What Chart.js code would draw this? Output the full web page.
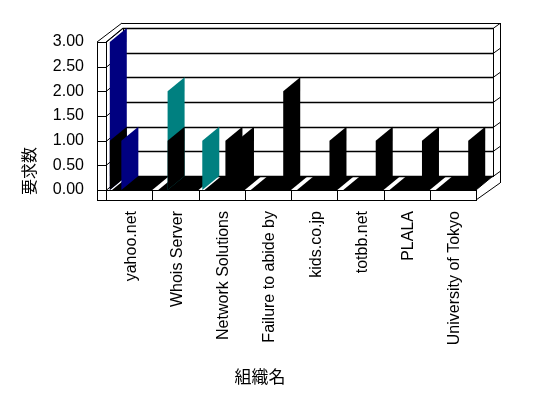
<!DOCTYPE html>
<html>
<head>
<meta charset="utf-8">
<script src="https://cdn.jsdelivr.net/npm/chart.js@4.4.0/dist/chart.umd.min.js"></script>
<style>
  html, body { margin: 0; padding: 0; background: #fff; }
</style>
</head>
<body>
<canvas id="myChart" width="548" height="398"></canvas>
<script>
// organisations on the x axis
const labels = [
  'yahoo.net',
  'Whois Server',
  'Network Solutions',
  'Failure to abide by',
  'kids.co.jp',
  'totbb.net',
  'PLALA',
  'University of Tokyo'
];

// request counts, one array per bar slot inside a category (null = no bar)
const backA  = [3, null, 1, null, null, null, null, null];
const frontA = [1, null, null, null, null, null, null, null];
const backB  = [1, 2, null, null, null, null, null, null];
const frontB = [null, 1, null, null, null, null, null, null];
const slotC  = [null, null, 1, null, null, null, null, null];
const slotD  = [null, null, 1, 2, 1, 1, 1, 1];

const yTicks = [0, 0.5, 1, 1.5, 2, 2.5, 3];
const xTitle = '組織名';
const yTitle = '要求数';

const NAVY = '#000080';
const TEAL = '#008080';
const BLACK = '#000000';
const backAColors = [NAVY, null, TEAL, null, null, null, null, null];
const backBColors = [NAVY, TEAL, null, null, null, null, null, null];

// depth of the 3d box
const DX = 17, DY = -14;

function line(ctx, x1, y1, x2, y2) {
  ctx.beginPath();
  ctx.moveTo(x1, y1);
  ctx.lineTo(x2, y2);
  ctx.stroke();
}

function poly(ctx, pts, fill) {
  ctx.beginPath();
  ctx.moveTo(pts[0][0], pts[0][1]);
  for (let i = 1; i < pts.length; i++) ctx.lineTo(pts[i][0], pts[i][1]);
  ctx.closePath();
  ctx.fillStyle = fill;
  ctx.fill();
}

const frame = {
  id: 'frame',
  beforeDatasetsDraw(chart) {
    const ctx = chart.ctx;
    const a = chart.chartArea;
    const x = chart.scales.x, y = chart.scales.y;
    const L = a.left, R = a.right, T = a.top, B = a.bottom;
    ctx.save();
    ctx.strokeStyle = '#000';
    ctx.lineWidth = 1;

    // back wall
    ctx.strokeRect(L + DX + 0.5, T + DY + 0.5, R - L, B - T);
    line(ctx, L + DX - 1, T + DY - 4.5, R + DX + 7, T + DY - 4.5);
    line(ctx, R + DX + 7.5, T + DY - 5, R + DX + 7.5, B + DY + 7);
    ctx.lineWidth = 1.5;
    yTicks.forEach(v => {
      const fy = Math.round(y.getPixelForValue(v)) + 0.5;
      const by = fy + DY;
      line(ctx, L + DX, by, R + DX, by);
      ctx.lineWidth = 1;
      line(ctx, R + DX, by, R + DX + 7, by - 5);
      line(ctx, L, fy, L + DX, by);
      line(ctx, L - 9, fy, L, fy);
      ctx.lineWidth = 1.5;
    });
    ctx.lineWidth = 1;

    // left wall
    ctx.strokeRect(L - 8.5, T + 0.5, 9, B - T + 10);
    line(ctx, L - 9, T, L + DX - 1, T + DY - 5);
    line(ctx, L, T, L + DX, T + DY);

    // floor slab
    ctx.strokeRect(L - 8.5, B + 0.5, R - L + 9, 10);
    const band = x.width / labels.length;
    labels.forEach((lab, i) => {
      const x0 = Math.round(x.getPixelForValue(i) - band / 2) + 0.5;
      if (i > 0) line(ctx, x0, B, x0, B + 10);
    });
    line(ctx, R, B, R + DX, B + DY);
    line(ctx, R, B + 10, R + DX + 7, B + DY + 7);

    // black floor of each category
    labels.forEach((lab, i) => {
      const x0 = x.getPixelForValue(i) - band / 2;
      poly(ctx, [[x0 + 6, B], [x0 + band, B], [x0 + band + DX, B + DY], [x0 + 6 + DX, B + DY]], BLACK);
    });
    ctx.restore();
  },
  afterDatasetsDraw(chart) {
    const ctx = chart.ctx;
    ctx.save();
    labels.forEach((lab, i) => {
      chart.data.datasets.forEach((ds, d) => {
        const v = ds.data[i];
        if (v === null || v === undefined) return;
        const el = chart.getDatasetMeta(d).data[i];
        const xf = el.x - 2;
        const col = ds.planeColors[i];
        poly(ctx, [[xf, el.base], [xf, el.y], [xf + DX, el.y + DY], [xf + DX, el.base + DY]], col);
      });
    });
    ctx.restore();
  },
  afterDraw(chart) {
    const ctx = chart.ctx;
    ctx.save();
    ctx.fillStyle = '#000';
    ctx.textAlign = 'center';
    ctx.textBaseline = 'middle';
    ctx.font = '17px "Noto Sans CJK JP"';
    ctx.fillText(xTitle, 260, 377);
    ctx.translate(29, 171);
    ctx.rotate(-Math.PI / 2);
    ctx.font = '16px "Noto Sans CJK JP"';
    ctx.fillText(yTitle, 0, 0);
    ctx.restore();
  }
};

const fill = arr => arr.map(() => 'rgba(0,0,0,0)');
const black = arr => arr.map(() => BLACK);

const data = {
  labels: labels,
  datasets: [
    { label: 'A', data: backA, stack: 'a', planeColors: backAColors },
    { label: 'A2', data: frontA, stack: 'a', planeColors: black(frontA) },
    { label: 'B', data: backB, stack: 'b', planeColors: backBColors },
    { label: 'B2', data: frontB, stack: 'b', planeColors: black(frontB) },
    { label: 'C', data: slotC, stack: 'c', planeColors: black(slotC) },
    { label: 'D', data: slotD, stack: 'd', planeColors: black(slotD) }
  ].map(ds => Object.assign(ds, { backgroundColor: fill(ds.data), borderWidth: 0 }))
};

const config = {
  type: 'bar',
  data,
  options: {
    responsive: false,
    animation: false,
    devicePixelRatio: 1,
    categoryPercentage: 1,
    barPercentage: 1,
    layout: { padding: { left: 0, top: 42, right: 72, bottom: 0 } },
    plugins: { legend: { display: false }, tooltip: { enabled: false } },
    scales: {
      x: {
        grid: { display: false, drawTicks: false },
        border: { display: false },
        ticks: {
          autoSkip: false,
          minRotation: 90,
          maxRotation: 90,
          padding: 21,
          labelOffset: 2,
          color: '#000',
          font: { family: '"Liberation Sans", Arial', size: 16 }
        },
        afterFit: s => { s.height = 208; }
      },
      y: {
        min: 0,
        max: 3,
        stacked: false,
        grid: { display: false, drawTicks: false },
        border: { display: false },
        ticks: {
          stepSize: 0.5,
          padding: 22,
          color: '#000',
          font: { family: '"Liberation Sans", Arial', size: 16 },
          callback: v => Number(v).toFixed(2)
        },
        afterFit: s => { s.width = 106; }
      }
    }
  },
  plugins: [frame]
};

const myChart = new Chart(document.querySelector('#myChart'), config);
</script>
</body>
</html>
